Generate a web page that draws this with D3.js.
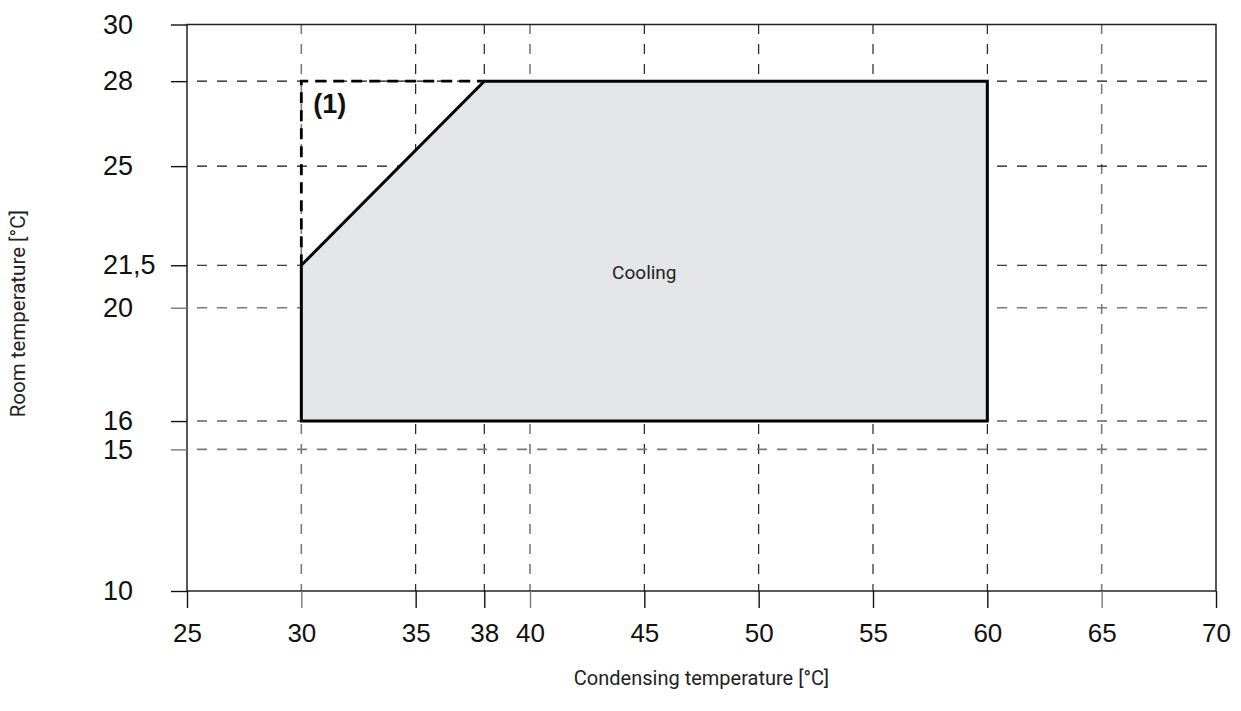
<!DOCTYPE html>
<html>
<head>
<meta charset="utf-8">
<script src="https://cdn.jsdelivr.net/npm/d3@7"></script>
<style>
  html, body { margin: 0; padding: 0; background: #ffffff; }
  svg { display: block; }
</style>
</head>
<body>
<svg id="chart" width="1241" height="711"></svg>
<script>
// ---- data ----
const xTicks = [25, 30, 35, 38, 40, 45, 50, 55, 60, 65, 70];
const yTicks = [10, 15, 16, 20, 21.5, 25, 28, 30];
const yTickLabels = ["10", "15", "16", "20", "21,5", "25", "28", "30"];
const grayX = [30, 40, 65];
const grayY = [15, 20];
// operating envelope (Cooling)
const envelopeX = [30, 30, 38, 60, 60];
const envelopeY = [16, 21.5, 28, 28, 16];
// limit (1) dashed boundary
const limitX = [30, 30, 38];
const limitY = [21.5, 28, 28];
const areaLabel = "Cooling";
const areaLabelPos = [45, 21];
const noteLabel = "(1)";
const xTitle = "Condensing temperature [°C]";
const yTitle = "Room temperature [°C]";

// ---- layout ----
const svg = d3.select("#chart");
const pLeft = 187, pRight = 1216, pTop = 24.5, pBottom = 591;
const x = d3.scaleLinear().domain([25, 70]).range([pLeft, pRight]);
const y = d3.scaleLinear().domain([10, 30]).range([pBottom, pTop]);
const labelFont = "'Liberation Sans', Arial, sans-serif";
const titleFont = "Roboto, 'Open Sans', sans-serif";

// grid lines (inner ticks only)
const gridG = svg.append("g");
gridG.selectAll("line.vx")
  .data(xTicks.filter(d => d > 25 && d < 70))
  .join("line")
  .attr("x1", d => x(d)).attr("x2", d => x(d))
  .attr("y1", pBottom).attr("y2", pTop)
  .attr("stroke", d => grayX.includes(d) ? "#7a7a7a" : "#111")
  .attr("stroke-width", d => grayX.includes(d) ? 1.6 : 1.1)
  .attr("stroke-dasharray", "10,10")
  .attr("stroke-dashoffset", 3);
gridG.selectAll("line.hy")
  .data(yTicks.filter(d => d > 10 && d < 30))
  .join("line")
  .attr("x1", pLeft).attr("x2", pRight)
  .attr("y1", d => y(d)).attr("y2", d => y(d))
  .attr("stroke", d => grayY.includes(d) ? "#7a7a7a" : "#111")
  .attr("stroke-width", d => grayY.includes(d) ? 1.6 : 1.1)
  .attr("stroke-dasharray", "10,10")
  .attr("stroke-dashoffset", -10);

// envelope polygon
const pts = envelopeX.map((v, i) => [v, envelopeY[i]]);
const line = d3.line().x(d => x(d[0])).y(d => y(d[1]));
svg.append("path")
  .attr("d", line(pts) + "Z")
  .attr("fill", "#e4e5e7")
  .attr("stroke", "#000")
  .attr("stroke-width", 3)
  .attr("stroke-linejoin", "miter");

// limit dashed boundary (1)
const lpts = limitX.map((v, i) => [v, limitY[i]]);
svg.append("path")
  .attr("d", line(lpts))
  .attr("fill", "none")
  .attr("stroke", "#000")
  .attr("stroke-width", 2.8)
  .attr("stroke-dasharray", "11,7");

// frame
svg.append("rect")
  .attr("x", pLeft).attr("y", pTop)
  .attr("width", pRight - pLeft).attr("height", pBottom - pTop)
  .attr("fill", "none")
  .attr("stroke", "#222")
  .attr("stroke-width", 1.5);

// axes (ticks + labels)
const xAxis = d3.axisBottom(x).tickValues(xTicks).tickSize(17).tickPadding(16)
  .tickFormat(d3.format("d"));
const xg = svg.append("g").attr("transform", `translate(0,${pBottom})`).call(xAxis);
xg.select(".domain").remove();
xg.selectAll(".tick line").attr("stroke", d => grayX.includes(d) ? "#7a7a7a" : "#111")
  .attr("stroke-width", 1.4);
xg.selectAll(".tick text")
  .attr("font-family", labelFont).attr("font-size", 26).attr("fill", "#111");

const yAxis = d3.axisLeft(y).tickValues(yTicks).tickSize(16).tickPadding(0)
  .tickFormat((d, i) => yTickLabels[i]);
const yg = svg.append("g").attr("transform", `translate(${pLeft},0)`).call(yAxis);
yg.select(".domain").remove();
yg.selectAll(".tick line").attr("stroke", d => grayY.includes(d) ? "#7a7a7a" : "#111")
  .attr("stroke-width", 1.4);
yg.selectAll(".tick text")
  .attr("font-family", labelFont).attr("font-size", 27).attr("fill", "#111")
  .attr("text-anchor", "start")
  .attr("x", 103 - pLeft);

// labels
svg.append("text")
  .attr("x", x(areaLabelPos[0])).attr("y", y(areaLabelPos[1]))
  .attr("text-anchor", "middle")
  .attr("font-family", titleFont).attr("font-size", 19)
  .attr("fill", "#222")
  .text(areaLabel);

svg.append("text")
  .attr("x", x(limitX[0]) + 12).attr("y", y(limitY[1]) + 32)
  .attr("font-family", "'Liberation Sans', Arial, Helvetica, sans-serif")
  .attr("font-size", 27).attr("font-weight", 700)
  .attr("fill", "#111")
  .text(noteLabel);

svg.append("text")
  .attr("x", (pLeft + pRight) / 2).attr("y", 685)
  .attr("text-anchor", "middle")
  .attr("font-family", titleFont).attr("font-size", 20)
  .attr("fill", "#222")
  .text(xTitle);

svg.append("text")
  .attr("transform", `translate(25,${(pTop + pBottom) / 2 + 6}) rotate(-90)`)
  .attr("text-anchor", "middle")
  .attr("font-family", titleFont).attr("font-size", 20.5)
  .attr("fill", "#222")
  .text(yTitle);
</script>
</body>
</html>
